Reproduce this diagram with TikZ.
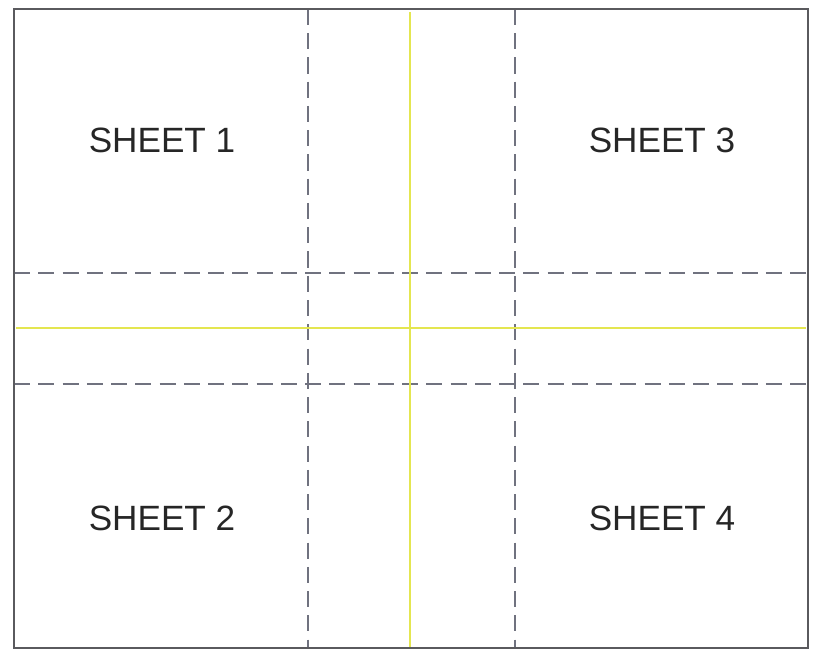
\documentclass[tikz,border=0pt]{standalone}
\usepackage{fontspec}
\setmainfont{Liberation Sans}
\usepackage{tikz}
\usetikzlibrary{positioning}
\definecolor{cutgray}{HTML}{70727F}
\definecolor{foldyellow}{HTML}{E4E650}
\definecolor{framegray}{HTML}{5A5A5E}

\begin{document}
\begin{tikzpicture}[
    frame/.style={draw=framegray, line width=0.6pt},
    cutline/.style={draw=cutgray, line width=0.5pt, dash pattern=on 4.6pt off 2.3pt},
    foldline/.style={draw=foldyellow, line width=0.8pt},
    sheetlbl/.style={font=\fontsize{10}{12}\selectfont, text=black!85, inner sep=0pt}
]
\useasboundingbox (0,0) rectangle (8.18,6.5);
\coordinate (sw) at (0.14,0.02);
\coordinate (ne) at (8.08,6.41);

% overlap strips
\draw[cutline] (3.08,6.41) -- (3.08,0.02);
\draw[cutline] (5.15,6.41) -- (5.15,0.02);
\draw[cutline] (0.14,3.77) -- (8.08,3.77);
\draw[cutline] (0.14,2.66) -- (8.08,2.66);

% centre lines
\draw[foldline] (4.10,6.38) -- (4.10,0.02);
\draw[foldline] (0.16,3.22) -- (8.06,3.22);

\draw[frame] (sw) rectangle (ne);

\node[sheetlbl] (s1) at (1.62,5.10) {SHEET 1};
\node[sheetlbl] (s3) at (6.62,5.10) {SHEET 3};
\node[sheetlbl] (s2) at (1.62,1.32) {SHEET 2};
\node[sheetlbl] (s4) at (6.62,1.32) {SHEET 4};
\end{tikzpicture}
\end{document}
